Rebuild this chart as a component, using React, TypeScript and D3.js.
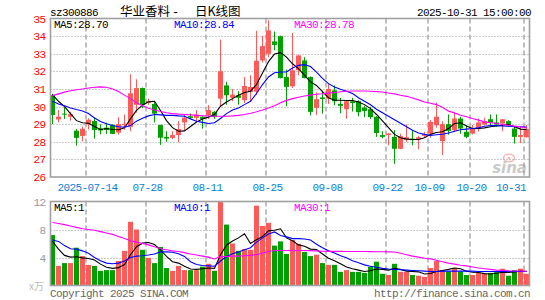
import React, { useEffect, useRef } from "react";
import * as d3 from "d3";

// trading days shown (2025)
const dates = [
  "07-04", "07-07", "07-08", "07-09", "07-10", "07-11", "07-14", "07-15", "07-16", "07-17",
  "07-18", "07-21", "07-22", "07-23", "07-24", "07-25", "07-28", "07-29", "07-30", "07-31",
  "08-01", "08-04", "08-05", "08-06", "08-07", "08-08", "08-11", "08-12", "08-13", "08-14",
  "08-15", "08-18", "08-19", "08-20", "08-21", "08-22", "08-25", "08-26", "08-27", "08-28",
  "08-29", "09-01", "09-02", "09-03", "09-04", "09-05", "09-08", "09-09", "09-10", "09-11",
  "09-12", "09-15", "09-16", "09-17", "09-18", "09-19", "09-22", "09-23", "09-24", "09-25",
  "09-26", "09-29", "09-30", "10-09", "10-10", "10-13", "10-14", "10-15", "10-16", "10-17",
  "10-20", "10-21", "10-22", "10-23", "10-24", "10-27", "10-28", "10-29", "10-30", "10-31",
];

const tickDates = ["07-14", "07-28", "08-11", "08-25", "09-08", "09-22", "10-09", "10-20", "10-31"];
const tickLabels = ["2025-07-14", "07-28", "08-11", "08-25", "09-08", "09-22", "10-09", "10-20", "10-31"];
const priceTicks = [26, 27, 28, 29, 30, 31, 32, 33, 34, 35];
const volTicks = [4, 8, 12];

const open = [
  30.65, 29.27, 29.6, 29.42, 28.63, 28.33, 28.98, 29.18, 28.76, 28.8,
  28.95, 28.52, 28.95, 28.85, 30.1, 31.05, 30.2, 30.15, 28.95, 28.28,
  28.22, 28.38, 29.1, 29.45, 29.36, 29.42, 29.5, 29.7, 30.45, 31.2,
  30.5, 30.64, 30.36, 30.83, 30.85, 32.62, 33.0, 33.7, 34.0, 31.68,
  31.15, 32.06, 32.62, 31.68, 29.92, 30.52, 30.45, 30.92, 30.15, 29.85,
  30.3, 30.3, 29.94, 29.85, 29.42, 28.38, 28.38, 28.28, 27.6, 28.12,
  28.18, 28.15, 28.34, 28.47, 28.94, 28.04, 29.0, 28.66, 29.32, 28.57,
  28.47, 28.75, 28.98, 29.28, 29.1, 29.04, 29.17, 28.75, 28.28, 28.25,
];
const high = [
  30.72, 29.8, 29.95, 29.7, 28.72, 28.87, 29.33, 29.38, 29.0, 29.08,
  29.0, 29.4, 29.55, 31.83, 31.55, 31.08, 30.45, 30.25, 28.97, 28.6,
  28.6, 29.17, 29.55, 29.6, 29.8, 29.45, 30.08, 29.75, 33.8, 31.4,
  31.0, 30.87, 31.68, 31.77, 34.3, 34.0, 34.9, 34.26, 34.02, 32.1,
  34.18, 32.94, 32.8, 31.7, 30.8, 30.9, 31.3, 31.2, 30.5, 30.34,
  30.5, 30.36, 30.05, 29.98, 29.45, 28.6, 28.48, 28.66, 28.45, 28.98,
  28.66, 28.34, 28.55, 29.23, 30.23, 29.17, 29.55, 29.65, 29.42, 28.95,
  28.95, 29.32, 29.36, 29.55, 29.55, 29.28, 29.23, 28.85, 28.85, 28.95,
];
const low = [
  29.0, 29.1, 29.3, 29.2, 27.78, 28.02, 28.7, 28.18, 28.42, 28.45,
  28.43, 28.4, 28.68, 28.6, 29.65, 29.9, 30.1, 29.1, 27.82, 28.0,
  28.15, 27.97, 28.66, 29.28, 29.1, 28.75, 29.3, 29.3, 29.98, 30.1,
  30.3, 30.11, 30.2, 30.3, 30.65, 32.5, 32.8, 33.2, 31.6, 30.02,
  31.05, 31.77, 31.6, 29.5, 29.52, 29.6, 30.15, 30.08, 29.62, 29.3,
  29.72, 29.45, 29.4, 29.3, 28.28, 28.2, 27.8, 26.75, 27.58, 28.0,
  27.8, 27.58, 28.25, 28.23, 28.8, 27.25, 28.4, 28.55, 28.45, 28.2,
  28.42, 28.57, 28.94, 28.94, 28.85, 28.6, 28.85, 27.9, 27.92, 28.25,
];
const close = [
  29.52, 29.42, 29.55, 29.57, 28.22, 28.74, 29.25, 28.67, 28.64, 28.67,
  28.45, 29.0, 29.02, 30.75, 31.05, 30.1, 30.3, 29.6, 28.23, 28.18,
  28.38, 28.72, 29.36, 29.36, 29.55, 29.3, 29.8, 29.42, 32.0, 30.64,
  30.68, 30.5, 31.17, 31.11, 32.6, 33.43, 34.32, 33.5, 31.62, 31.12,
  32.06, 32.9, 31.62, 29.7, 30.42, 30.43, 31.0, 30.3, 30.04, 30.3,
  30.2, 29.68, 29.75, 29.4, 28.5, 28.28, 28.47, 27.6, 28.32, 28.26,
  28.1, 28.25, 28.43, 29.13, 29.42, 29.0, 28.62, 29.32, 28.75, 28.28,
  28.75, 29.1, 29.17, 29.1, 28.98, 29.28, 28.94, 28.28, 28.38, 28.72,
];
// volume, x万
const volume = [
  7.2, 2.8, 3.2, 3.2, 5.4, 4.2, 2.95, 2.8, 2.1, 2.2,
  2.2, 3.5, 4.95, 9.1, 8.0, 5.1, 3.95, 3.2, 5.5, 2.5,
  2.1, 2.8, 2.2, 2.2, 2.2, 2.7, 3.1, 2.1, 12.2, 8.7,
  6.0, 4.95, 5.2, 5.1, 11.4, 8.5, 8.95, 5.7, 6.3, 4.5,
  6.5, 5.95, 4.8, 4.2, 4.4, 3.2, 2.95, 2.95, 1.95, 2.2,
  1.95, 1.95, 1.8, 2.67, 3.4, 1.67, 1.5, 3.1, 1.95, 1.95,
  1.5, 1.4, 1.24, 2.5, 3.5, 2.2, 2.0, 2.5, 2.0, 1.5,
  1.5, 1.8, 1.67, 1.8, 1.95, 2.4, 1.4, 2.2, 2.4, 1.67,
];

// moving averages
const ma5 = [
  30.68, 30.3, 30.0, 29.6, 29.2, 29.08, 29.05, 28.87, 28.7, 28.75,
  28.7, 28.68, 28.8, 29.3, 29.78, 30.08, 30.27, 30.3, 29.78, 29.2,
  28.8, 28.6, 28.62, 28.87, 29.12, 29.29, 29.4, 29.55, 30.02, 30.26,
  30.45, 30.64, 30.8, 30.87, 31.25, 31.9, 32.55, 32.98, 33.06, 32.81,
  32.43, 32.15, 31.77, 31.4, 31.2, 30.85, 30.5, 30.36, 30.36, 30.34,
  30.34, 30.26, 30.11, 29.88, 29.55, 29.18, 28.8, 28.42, 28.23, 28.15,
  28.13, 28.13, 28.23, 28.42, 28.53, 28.57, 28.75, 29.04, 29.08, 28.9,
  28.75, 28.75, 28.79, 28.85, 28.9, 28.94, 28.98, 28.85, 28.72, 28.7,
];
const ma10 = [
  30.3, 30.15, 30.05, 29.92, 29.83, 29.75, 29.6, 29.35, 29.15, 29.02,
  28.92, 28.85, 28.83, 28.92, 29.17, 29.33, 29.47, 29.55, 29.53, 29.5,
  29.5, 29.47, 29.45, 29.3, 29.17, 29.1, 29.04, 29.08, 29.32, 29.6,
  29.8, 29.92, 30.11, 30.3, 30.74, 31.25, 31.68, 31.92, 31.96, 31.96,
  32.19, 32.34, 32.38, 32.27, 31.96, 31.6, 31.3, 31.11, 30.98, 30.87,
  30.74, 30.5, 30.3, 30.1, 29.85, 29.65, 29.45, 29.25, 29.05, 28.85,
  28.65, 28.5, 28.42, 28.36, 28.4, 28.43, 28.5, 28.6, 28.68, 28.72,
  28.75, 28.8, 28.88, 28.92, 28.92, 28.9, 28.88, 28.86, 28.85, 28.84,
];
const ma30 = [
  30.62, 30.72, 30.82, 30.9, 30.95, 31.0, 31.05, 31.1, 31.12, 31.1,
  31.0, 30.85, 30.65, 30.45, 30.22, 30.04, 29.9, 29.8, 29.72, 29.65,
  29.6, 29.57, 29.55, 29.53, 29.5, 29.48, 29.46, 29.45, 29.45, 29.45,
  29.47, 29.5, 29.55, 29.62, 29.7, 29.8, 29.92, 30.05, 30.22, 30.35,
  30.45, 30.53, 30.6, 30.65, 30.7, 30.73, 30.76, 30.8, 30.84, 30.87,
  30.88, 30.88, 30.88, 30.87, 30.85, 30.83, 30.77, 30.72, 30.64, 30.58,
  30.49, 30.38, 30.26, 30.19, 30.11, 29.96, 29.74, 29.64, 29.51, 29.42,
  29.32, 29.23, 29.13, 29.09, 29.04, 28.98, 28.94, 28.89, 28.85, 28.78,
];
const volMa5 = [
  6.3, 5.2, 4.3, 4.05, 4.1, 3.95, 3.85, 3.65, 3.05, 2.6,
  2.45, 2.55, 3.0, 4.4, 5.55, 6.05, 6.15, 5.85, 5.1, 4.15,
  3.4, 3.2, 2.75, 2.35, 2.3, 2.4, 2.5, 2.45, 4.4, 5.75,
  6.35, 6.8, 7.4, 6.0, 6.55, 7.0, 7.8, 7.9, 8.1, 6.8,
  6.4, 5.8, 5.6, 5.2, 5.15, 4.5, 3.9, 3.55, 3.1, 2.65,
  2.4, 2.2, 2.0, 2.1, 2.35, 2.3, 2.2, 2.45, 2.3, 2.05,
  2.0, 1.95, 1.65, 1.72, 2.0, 2.15, 2.3, 2.5, 2.4, 2.05,
  1.9, 1.85, 1.7, 1.65, 1.75, 1.9, 1.85, 1.95, 2.05, 2.0,
];
const volMa10 = [
  6.5, 6.3, 5.7, 5.25, 5.2, 4.95, 4.6, 4.0, 3.55, 3.2,
  3.1, 3.2, 3.5, 4.0, 4.2, 4.25, 4.35, 4.5, 4.8, 4.8,
  4.75, 4.55, 4.15, 3.4, 3.0, 2.85, 2.8, 2.75, 3.5, 4.15,
  4.55, 4.8, 5.1, 5.4, 6.2, 6.8, 7.35, 7.65, 7.15, 6.95,
  6.7, 6.7, 6.65, 6.5, 5.9, 5.4, 4.95, 4.65, 4.25, 3.95,
  3.55, 3.25, 2.95, 2.75, 2.6, 2.45, 2.35, 2.3, 2.25, 2.2,
  2.15, 2.1, 2.05, 2.0, 2.0, 2.05, 2.05, 2.05, 2.05, 2.05,
  2.05, 2.0, 2.0, 2.0, 2.0, 2.0, 2.0, 2.0, 2.0, 2.0,
];
const volMa30 = [
  9.0, 8.85, 8.7, 8.5, 8.3, 8.1, 8.0, 7.9, 7.7, 7.5,
  7.3, 7.0, 6.7, 6.4, 6.2, 6.0, 5.8, 5.55, 5.25, 5.1,
  4.95, 4.85, 4.7, 4.5, 4.35, 4.2, 4.05, 3.78, 4.12, 4.15,
  4.2, 4.2, 4.25, 4.3, 4.4, 4.65, 4.85, 5.0, 5.0, 5.0,
  5.0, 5.0, 5.0, 4.98, 4.95, 4.9, 4.88, 4.87, 4.87, 4.86,
  4.86, 4.85, 4.85, 4.84, 4.83, 4.82, 4.8, 4.78, 4.6, 4.4,
  4.2, 4.05, 3.9, 3.8, 3.6, 3.4, 3.2, 3.05, 2.9, 2.8,
  2.65, 2.5, 2.4, 2.3, 2.2, 2.15, 2.1, 2.08, 2.07, 2.06,
];

const priceLegend = ["MA5:28.70", "MA10:28.84", "MA30:28.78"];
const volLegend = ["MA5:1", "MA10:1", "MA30:1"];

const RED = "#ff5a5a";
const GREEN = "#00a000";
const MA_COLORS = ["#000000", "#0000ff", "#ff00ff"];
const MONO = "'Liberation Mono', 'DejaVu Sans Mono', monospace";

export default function App() {
  const ref = useRef<SVGSVGElement>(null);

  useEffect(() => {
    const node = ref.current;
    if (!node) return;
    node.innerHTML = "";

    const left = 50.5, right = 529.5;
    const pTop = 18.5, pBottom = 177;
    const vTop = 201.5, vBottom = 285.5;

    const svg = d3.select(node);
    svg.append("rect").attr("width", 545).attr("height", 300).attr("fill", "#fff");

    const x = d3.scaleBand<string>().domain(dates).range([49.5, 529.5]).padding(0);
    const cx = (d: string) => (x(d) as number) + x.bandwidth() / 2;
    const y = d3.scaleLinear().domain([26, 35]).range([pBottom, pTop]);
    const yv = d3.scaleLinear().domain([0, 12]).range([vBottom, vTop]);

    const idx = d3.range(dates.length);
    const up = (i: number) => close[i] >= open[i];

    const defs = svg.append("defs");
    defs.append("clipPath").attr("id", "clipP")
      .append("rect").attr("x", left).attr("y", pTop).attr("width", right - left).attr("height", pBottom - pTop);
    defs.append("clipPath").attr("id", "clipV")
      .append("rect").attr("x", left).attr("y", vTop).attr("width", right - left).attr("height", vBottom - vTop);

    // header
    svg.append("text").attr("x", 50).attr("y", 15.5)
      .attr("font-family", MONO).attr("font-size", 11).attr("letter-spacing", -0.6)
      .text("sz300886");
    const title = svg.append("g").attr("font-family", "'Noto Sans CJK SC', sans-serif").attr("font-size", 12.5);
    title.append("text").attr("x", 120).attr("y", 16).text("华业香料");
    title.append("text").attr("x", 172).attr("y", 15.5)
      .attr("font-family", MONO).attr("font-size", 12).text("-");
    title.append("text").attr("x", 195).attr("y", 16).text("日K线图");
    svg.append("text").attr("x", 531).attr("y", 15.5).attr("text-anchor", "end")
      .attr("font-family", MONO).attr("font-size", 11).attr("letter-spacing", -0.6)
      .text("2025-10-31 15:00:00");

    // grids
    const grid = svg.append("g").attr("stroke", "#999").attr("stroke-dasharray", "1,2").attr("stroke-width", 1);
    grid.selectAll("line.p").data(priceTicks.filter(t => t > 26 && t < 35)).join("line")
      .attr("x1", left).attr("x2", right)
      .attr("y1", d => Math.round(y(d)) + 0.5).attr("y2", d => Math.round(y(d)) + 0.5);
    grid.selectAll("line.v").data(volTicks.filter(t => t < 12)).join("line")
      .attr("class", "v")
      .attr("x1", left).attr("x2", right)
      .attr("y1", d => Math.round(yv(d)) + 0.5).attr("y2", d => Math.round(yv(d)) + 0.5);

    const dashed = svg.append("g").attr("stroke", "#b0b0b0").attr("stroke-width", 1.6).attr("stroke-dasharray", "5,3");
    for (const [top, bottom] of [[pTop, pBottom], [vTop, vBottom]]) {
      dashed.append("g").selectAll("line").data(tickDates).join("line")
        .attr("x1", d => cx(d) - 2.5).attr("x2", d => cx(d) - 2.5)
        .attr("y1", top).attr("y2", bottom);
    }

    // candles
    const candles = svg.append("g").attr("clip-path", "url(#clipP)");
    candles.selectAll("line").data(idx).join("line")
      .attr("x1", i => cx(dates[i])).attr("x2", i => cx(dates[i]))
      .attr("y1", i => y(high[i])).attr("y2", i => y(low[i]))
      .attr("stroke", i => (up(i) ? RED : GREEN)).attr("stroke-width", 1);
    candles.selectAll("rect").data(idx).join("rect")
      .attr("x", i => (x(dates[i]) as number) + 0.5)
      .attr("width", x.bandwidth() - 1)
      .attr("y", i => y(Math.max(open[i], close[i])))
      .attr("height", i => Math.max(1, Math.abs(y(open[i]) - y(close[i]))))
      .attr("fill", i => (up(i) ? RED : GREEN));

    // price moving averages
    const lines = svg.append("g").attr("clip-path", "url(#clipP)").attr("fill", "none").attr("stroke-width", 1.1);
    [ma5, ma10, ma30].forEach((s, k) => {
      const line = d3.line<number>().x(i => cx(dates[i])).y(i => y(s[i]));
      lines.append("path").attr("d", line(idx)).attr("stroke", MA_COLORS[k]);
    });

    // volume bars
    const bars = svg.append("g").attr("clip-path", "url(#clipV)");
    bars.selectAll("rect").data(idx).join("rect")
      .attr("x", i => (x(dates[i]) as number) + 0.5)
      .attr("width", x.bandwidth() - 1)
      .attr("y", i => yv(Math.min(12, volume[i])))
      .attr("height", i => yv(0) - yv(Math.min(12, volume[i])))
      .attr("fill", i => (up(i) ? RED : GREEN));

    const vlines = svg.append("g").attr("clip-path", "url(#clipV)").attr("fill", "none").attr("stroke-width", 1.1);
    [volMa5, volMa10, volMa30].forEach((s, k) => {
      const line = d3.line<number>().x(i => cx(dates[i])).y(i => yv(s[i]));
      vlines.append("path").attr("d", line(idx)).attr("stroke", MA_COLORS[k]);
    });

    // sina watermark
    const logo = svg.append("g").attr("opacity", 0.55);
    logo.append("ellipse").attr("cx", 509).attr("cy", 158).attr("rx", 5.5).attr("ry", 3.8)
      .attr("fill", "none").attr("stroke", "#f08080").attr("stroke-width", 1.6);
    logo.append("circle").attr("cx", 509).attr("cy", 158).attr("r", 1.5).attr("fill", "#f08080");
    logo.append("text").attr("x", 527).attr("y", 173).attr("text-anchor", "end")
      .attr("font-family", "'DejaVu Sans', sans-serif").attr("font-style", "italic").attr("font-weight", "bold")
      .attr("font-size", 15).attr("fill", "#a0a0a0").text("sina");

    // borders
    for (const [top, bottom] of [[pTop, pBottom], [vTop, vBottom]]) {
      svg.append("rect").attr("x", left).attr("y", top).attr("width", right - left).attr("height", bottom - top)
        .attr("fill", "none").attr("stroke", "#a0a0a0").attr("stroke-width", 1.6);
    }

    // price axis labels
    const axP = svg.append("g").attr("transform", `translate(${left},0)`)
      .call(d3.axisLeft(y).tickValues(priceTicks).tickSize(0).tickPadding(5).tickFormat(d3.format("d")));
    axP.select(".domain").remove();
    axP.selectAll("text").attr("fill", "#ff0000").attr("font-family", MONO).attr("font-size", 11).attr("letter-spacing", -0.6);

    const axV = svg.append("g").attr("transform", `translate(${left},0)`)
      .call(d3.axisLeft(yv).tickValues(volTicks).tickSize(0).tickPadding(5).tickFormat(d3.format("d")));
    axV.select(".domain").remove();
    axV.selectAll("text").attr("fill", "#999").attr("font-family", MONO).attr("font-size", 11).attr("letter-spacing", -0.6);
    svg.append("text").attr("x", 44).attr("y", yv(0) + 4).attr("text-anchor", "end")
      .attr("font-family", "'Noto Sans CJK SC', sans-serif").attr("font-size", 10).attr("fill", "#bbb")
      .text("x万");

    // date labels
    svg.append("g").selectAll("text").data(tickDates).join("text")
      .attr("x", (d, k) => Math.min(cx(d) - 1, 526 - tickLabels[k].length * 3))
      .attr("y", 191)
      .attr("text-anchor", "middle")
      .attr("font-family", MONO).attr("font-size", 11).attr("letter-spacing", -0.6)
      .attr("fill", "#0a7fd5")
      .text((d, k) => tickLabels[k]);

    // legends
    const legX = [54, 174, 294];
    priceLegend.forEach((t, k) => {
      svg.append("text").attr("x", legX[k]).attr("y", 27.5).attr("fill", MA_COLORS[k])
        .attr("font-family", MONO).attr("font-size", 11).attr("letter-spacing", -0.6).text(t);
    });
    volLegend.forEach((t, k) => {
      svg.append("text").attr("x", legX[k]).attr("y", 210.5).attr("fill", MA_COLORS[k])
        .attr("font-family", MONO).attr("font-size", 11).attr("letter-spacing", -0.6).text(t);
    });

    // footer
    svg.append("text").attr("x", 50).attr("y", 296.5).attr("fill", "#666")
      .attr("font-family", MONO).attr("font-size", 11).attr("letter-spacing", -0.6)
      .text("Copyright 2025 SINA.COM");
    svg.append("text").attr("x", 530).attr("y", 296.5).attr("fill", "#666").attr("text-anchor", "end")
      .attr("font-family", MONO).attr("font-size", 11).attr("letter-spacing", -0.6)
      .text("http://finance.sina.com.cn");
  }, []);

  return (
    <svg ref={ref} width={545} height={300}
      style={{ position: "absolute", left: 0, top: 0, display: "block" }} />
  );
}
